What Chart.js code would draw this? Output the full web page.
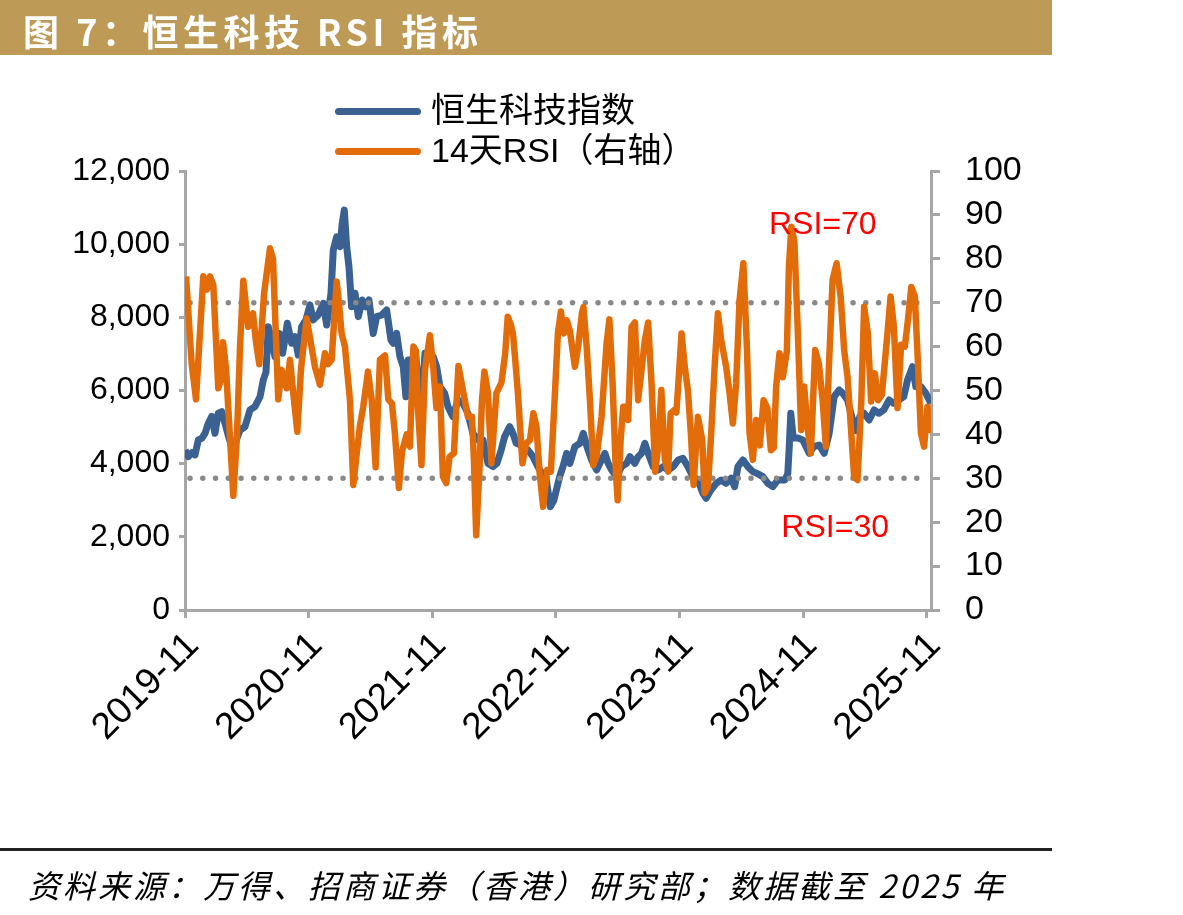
<!DOCTYPE html>
<html>
<head>
<meta charset="utf-8">
<script src="https://cdn.jsdelivr.net/npm/chart.js@4.4.1/dist/chart.umd.min.js"></script>
<style>
  html, body { margin: 0; padding: 0; background: #fff; }
  body { width: 1183px; height: 915px; position: relative; overflow: hidden; }
  #chart { position: absolute; left: 0; top: 0; }
  .title-bar { position: absolute; left: 0; top: 0; width: 1052px; height: 55px; background: #bd9a55; }
  .title-bar span { position: absolute; left: 23px; top: 4px; color: #fff; font: bold 36px "Noto Sans CJK SC", sans-serif; letter-spacing: 4.5px; }
  .legend { position: absolute; left: 335px; top: 90px; font: 34px "Liberation Sans", "Noto Sans CJK SC", sans-serif; color: #000; }
  .legend div { height: 40px; line-height: 40px; white-space: nowrap; }
  .legend i { display: inline-block; width: 86px; height: 7px; border-radius: 4px; vertical-align: middle; margin-right: 10px; position: relative; top: -2px; }
  .rule { position: absolute; left: 0; top: 848px; width: 1052px; height: 3px; background: #222; }
  .source { position: absolute; left: 28px; top: 861px; font: italic 32px "Noto Sans CJK SC", sans-serif; color: #000; letter-spacing: 3px; white-space: nowrap; }
</style>
</head>
<body>
<canvas id="chart" width="1183" height="915"></canvas>
<div class="title-bar"><span>图 7：恒生科技 RSI 指标</span></div>
<div class="legend">
  <div><i style="background:#3a6192"></i>恒生科技指数</div>
  <div><i style="background:#e36c0a"></i>14天RSI（右轴）</div>
</div>
<div class="rule"></div>
<div class="source">资料来源：万得、招商证券（香港）研究部；数据截至 2025 年</div>
<script>
// x values are months since 2019-11
const xTickLabels = ['2019-11', '2020-11', '2021-11', '2022-11', '2023-11', '2024-11', '2025-11'];

const idxMonths = [0,0.32,0.68,0.97,1.29,1.65,1.94,2.26,2.59,2.91,
  3.23,3.56,3.88,4.27,4.66,5.05,5.34,5.82,6.31,6.79,
  7.28,7.60,7.86,8.08,8.41,8.73,9.15,9.48,9.93,10.35,
  10.67,10.99,11.32,11.74,12.13,12.45,12.93,13.42,13.75,14.17,
  14.39,14.72,15.04,15.26,15.46,15.69,15.91,16.17,16.50,16.82,
  17.20,17.53,17.85,18.27,18.60,19.09,19.57,19.99,20.21,20.54,
  20.86,21.18,21.44,21.67,21.93,22.32,22.80,23.03,23.29,23.68,
  24.09,24.42,24.74,25.20,25.52,26.00,26.49,26.97,27.46,27.94,
  28.43,28.92,29.40,29.89,30.27,30.69,31.02,31.51,31.83,32.15,
  32.70,33.28,33.77,34.25,34.64,35.06,35.46,35.80,36.36,36.68,
  37.04,37.36,37.84,38.33,38.65,39.01,39.46,39.95,40.27,40.75,
  41.07,41.40,41.89,42.37,42.86,43.18,43.66,43.98,44.31,44.63,
  44.95,45.44,45.92,46.41,46.89,47.38,47.86,48.32,48.81,49.29,
  49.78,50.26,50.58,51.04,51.55,52.04,52.52,53.01,53.34,53.66,
  54.14,54.63,55.11,55.60,56.08,56.57,57.05,57.54,58.02,58.21,
  58.50,58.65,58.79,59.03,59.48,59.96,60.58,61.03,61.55,62.03,
  62.52,63.00,63.49,63.85,64.30,64.62,65.10,65.49,65.91,66.40,
  66.88,67.34,67.82,68.34,68.79,69.28,69.76,70.12,70.61,70.93,
  71.42,71.90,72.38];
const idxValues = [4370,4190,4300,4240,4650,4700,4830,5100,5290,4830,
  5380,5420,5100,4700,4370,4700,4920,5010,5470,5560,
  5830,6290,6500,7745,7380,6925,7560,7020,7840,7290,
  7470,6970,7745,7930,8340,7930,8065,8384,7790,8658,
  9840,10200,9930,10570,10930,9930,9390,8290,8658,8020,
  8475,8290,8475,7560,8020,8065,8200,7380,7290,7560,
  6925,6650,5830,6835,6700,7108,5924,5787,7017,6850,
  6925,6652,6105,5924,5559,5286,5741,5650,5377,4830,
  4648,4650,4010,3918,4010,4374,4739,5013,4830,4557,
  4500,4374,4191,3918,3730,3554,2824,3000,3645,3918,
  4284,4010,4466,4557,4830,4466,4101,3827,4010,4284,
  4010,3827,3645,3918,4010,4191,4010,4191,4284,4557,
  4284,3918,3827,3918,3827,3918,4101,4147,3918,3645,
  3554,3190,3054,3280,3463,3554,3463,3600,3372,3918,
  4101,3918,3782,3720,3645,3463,3372,3554,3554,3554,
  3720,4500,5377,4700,4700,4648,4284,4466,4511,4284,
  4830,5832,6015,5920,5741,5377,4900,5286,5377,5194,
  5468,5377,5468,5741,5650,5741,5832,6288,6652,6105,
  6105,5924,5650];

const rsiMonths = [0.10,0.65,1.07,1.78,2.13,2.43,2.75,3.23,3.44,3.69,
  3.98,4.69,5.05,5.34,5.66,6.14,6.60,6.89,7.21,7.67,
  8.25,8.54,9.05,9.38,9.87,10.19,10.48,10.90,11.26,11.81,
  12.13,12.61,13.10,13.58,13.88,14.23,14.72,14.94,15.20,15.52,
  16.01,16.33,16.59,16.98,17.30,17.76,18.12,18.50,18.92,19.41,
  19.73,20.09,20.38,20.76,21.06,21.51,21.83,22.17,22.41,22.61,
  22.95,23.29,23.77,24.09,24.40,24.74,25.03,25.35,25.68,26.10,
  26.54,26.97,27.46,27.85,28.04,28.26,28.59,28.82,29.06,29.40,
  29.74,30.22,30.71,31.08,31.32,31.63,31.83,32.05,32.31,32.75,
  33.12,33.48,33.81,34.11,34.42,34.76,35.15,35.51,35.87,36.19,
  36.48,36.77,37.04,37.36,37.84,38.16,38.52,38.67,38.98,39.30,
  39.62,39.95,40.43,40.92,41.19,41.50,41.82,41.99,42.28,42.53,
  42.86,43.01,43.34,43.66,43.98,44.31,44.63,44.95,45.28,45.63,
  45.92,46.23,46.57,46.89,47.13,47.45,47.69,47.86,48.19,48.52,
  48.81,49.10,49.36,49.78,50.20,50.43,50.75,51.07,51.40,51.72,
  52.04,52.52,52.85,53.17,53.49,53.82,54.19,54.53,54.79,55.11,
  55.43,55.79,56.15,56.52,56.86,57.15,57.37,57.70,58.02,58.41,
  58.61,58.85,59.14,59.48,59.80,60.09,60.40,60.74,61.16,61.52,
  61.88,62.20,62.52,62.85,63.24,63.65,63.97,64.30,64.62,64.94,
  65.27,65.64,65.91,66.27,66.59,66.95,67.27,67.63,68.09,68.48,
  68.80,69.15,69.50,69.86,70.15,70.49,70.83,71.12,71.42,71.73,
  72.06,72.29];
const rsiValues = [76,56,48,76,73,76,74,50.5,52,61,
  55,26,40,60,75,64.5,67.6,61,56,72,
  82.4,80,48,54.7,50.5,57,50,40.6,55,66.4,
  62,55.4,51.3,58.5,56,57,74.8,70,63,60,
  47.8,28.5,34,42,46.3,54.3,47.8,32.5,57,58,
  48,47,40,27.8,36,40,37.2,60,59,46,
  33,54.7,62.6,55.4,46,50.9,30.4,28.9,34.9,35.7,
  55.6,50.1,44,44,34.2,17,32.6,47.8,54.3,49.4,
  33.4,49.4,51.8,58.5,66.8,65,63,57,49.4,33.4,
  38,38.7,44.8,41.8,31.1,23.5,31.9,31.5,47.8,63,
  68,63,66,63.5,55.4,60,67.6,69,60,47.8,
  33,35,44,60.8,66.2,51.6,31.1,25,38.7,46.3,
  46.3,43.3,64.5,65.5,47.8,54.7,61.5,65.5,51.6,31.5,
  37,50.1,34.2,31.5,44.8,45.5,45,50.9,63,55,
  50,40,28.5,44,38.7,26.6,28,40.3,55.4,67.6,
  61.5,55.4,49.4,42.5,51.6,70.6,79,60,40.3,34.2,
  43.3,37.5,47.8,46,36.4,37,50.9,58.5,53,59,
  78.2,87.3,84,63,41,50.9,42,35.7,59.2,56,
  47.8,37.2,57,75.2,79,71,59.2,53.1,41.8,30.4,
  29.6,47.8,69.1,63,47.5,53.9,47.8,49,60.8,71.4,
  64.5,46,60.4,60,65.8,73.6,71.5,57,40.3,37.2,
  46.3,40.3];

// RSI reference levels and their labels
const rsiLevels = [70, 30];
const levelSpan = [0.49, 71.05];
const levelNotes = [
  { text: 'RSI=70', x: 61.9, y: 87.6 },
  { text: 'RSI=30', x: 63.1, y: 18.7 }
];

const toPoints = (xs, ys) => xs.map((x, i) => ({ x, y: ys[i] }));

Chart.defaults.font.family = '"Liberation Sans", Arial, sans-serif';
Chart.defaults.font.size = 32;
Chart.defaults.color = '#000';

const notesPlugin = {
  id: 'notes',
  afterDatasetsDraw(chart) {
    const { ctx, scales } = chart;
    ctx.save();
    ctx.fillStyle = '#ff0000';
    ctx.font = '32px "Liberation Sans", Arial, sans-serif';
    ctx.textAlign = 'center';
    ctx.textBaseline = 'middle';
    levelNotes.forEach((n) => {
      ctx.fillText(n.text, scales.x.getPixelForValue(n.x), scales.y2.getPixelForValue(n.y));
    });
    ctx.restore();
  }
};

const axisGray = '#a6a6a6';

new Chart(document.getElementById('chart'), {
  type: 'line',
  data: {
    datasets: [
      {
        label: '14天RSI（右轴）',
        data: toPoints(rsiMonths, rsiValues),
        yAxisID: 'y2',
        borderColor: '#e36c0a',
        borderWidth: 6.5,
        borderJoinStyle: 'round',
        pointRadius: 0,
        tension: 0
      },
      ...rsiLevels.map((lv) => ({
        label: 'RSI=' + lv,
        data: levelSpan.map((x) => ({ x, y: lv })),
        yAxisID: 'y2',
        borderColor: '#898989',
        borderWidth: 5.5,
        borderDash: [0, 12.75],
        borderCapStyle: 'round',
        pointRadius: 0
      })),
      {
        label: '恒生科技指数',
        data: toPoints(idxMonths, idxValues),
        yAxisID: 'y',
        borderColor: '#3a6192',
        borderWidth: 7,
        borderJoinStyle: 'round',
        pointRadius: 0,
        tension: 0
      }
    ]
  },
  options: {
    responsive: false,
    animation: false,
    devicePixelRatio: 1,
    layout: { padding: { left: 0, right: 142, top: 171, bottom: 145 } },
    plugins: { legend: { display: false }, tooltip: { enabled: false } },
    scales: {
      x: {
        type: 'linear',
        min: 0,
        max: 72.4,
        afterFit: (s) => { s.height = 160; },
        border: { color: axisGray, width: 3 },
        grid: { drawOnChartArea: false, color: axisGray, lineWidth: 3, tickLength: 8 },
        ticks: {
          stepSize: 12,
          includeBounds: false,
          autoSkip: false,
          minRotation: 45,
          maxRotation: 45,
          padding: 6,
          labelOffset: 8,
          font: { size: 37 },
          callback: (v) => (v % 12 === 0 ? xTickLabels[v / 12] : '')
        }
      },
      y: {
        position: 'left',
        min: 0,
        max: 12000,
        afterFit: (s) => { s.width = 185; },
        border: { color: axisGray, width: 3 },
        grid: { drawOnChartArea: false, color: axisGray, lineWidth: 3, tickLength: 6 },
        ticks: {
          stepSize: 2000,
          padding: 9,
          callback: (v) => v.toLocaleString('en-US')
        }
      },
      y2: {
        position: 'right',
        min: 0,
        max: 100,
        afterFit: (s) => { s.width = 110; },
        border: { color: axisGray, width: 3 },
        grid: { drawOnChartArea: false, color: axisGray, lineWidth: 3, tickLength: 9 },
        ticks: { stepSize: 10, padding: 25, font: { size: 34 } }
      }
    }
  },
  plugins: [notesPlugin]
});
</script>
</body>
</html>
